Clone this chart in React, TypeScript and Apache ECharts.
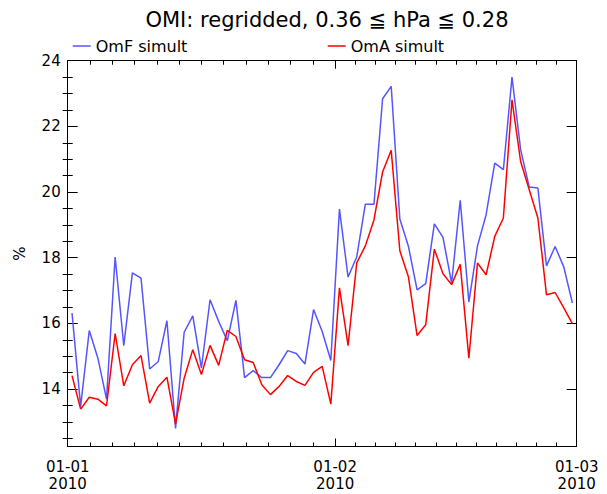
import React, { useEffect, useRef } from "react";
import * as echarts from "echarts";

// Daily values, 2010-01-01 .. 2010-02-28 (one point per day, at noon)
const omfSimult = [
  16.31, 13.47, 15.78, 14.94, 13.69, 18.02, 15.32, 17.54, 17.38, 14.61,
  14.84, 16.08, 12.8, 15.73, 16.23, 14.64, 16.72, 16.06, 15.47, 16.7,
  14.35, 14.56, 14.35, 14.35, 14.74, 15.17, 15.08, 14.76, 16.42, 15.75,
  14.87, 19.48, 17.41, 18.02, 19.63, 19.63, 22.84, 23.22, 19.18, 18.34,
  17.02, 17.21, 19.03, 18.62, 17.23, 19.75, 16.65, 18.36, 19.31, 20.88,
  20.68, 23.5, 21.29, 20.15, 20.12, 17.75, 18.34, 17.72, 16.62,
];
const omaSimult = [
  14.41, 13.39, 13.75, 13.69, 13.49, 15.69, 14.1, 14.74, 15.02, 13.57,
  14.08, 14.36, 12.94, 14.33, 15.2, 14.44, 15.33, 14.72, 15.79, 15.6,
  14.89, 14.81, 14.13, 13.83, 14.08, 14.41, 14.23, 14.11, 14.51, 14.69,
  13.54, 17.08, 15.32, 17.84, 18.36, 19.15, 20.61, 21.27, 18.21, 17.41,
  15.63, 15.96, 18.26, 17.51, 17.18, 17.8, 14.94, 17.84, 17.48, 18.65,
  19.21, 22.81, 20.93, 20.07, 19.21, 16.87, 16.94, 16.47, 15.99,
];

const seriesNames = ["OmF simult", "OmA simult"];
const seriesColors = ["#5555ff", "#ff0000"];
const monthStartDays = [0, 31, 59];
const monthLengths = [31, 28];
const monthLabels = ["01-01", "01-02", "01-03"];
const yearLabel = "2010";
const yMajorTicks = [14, 16, 18, 20, 22, 24];
const yMinorTicks = [12.5, 13, 13.5, 14.5, 15, 15.5, 16.5, 17, 17.5, 18.5, 19, 19.5, 20.5, 21, 21.5, 22.5, 23, 23.5];
const titleText = "OMI: regridded, 0.36 \u2266 hPa \u2266 0.28";

const FONT = "DejaVu Sans";

export default function App() {
  const ref = useRef<HTMLDivElement>(null);

  useEffect(() => {
    if (!ref.current) return;
    const chart = echarts.init(ref.current, undefined, { renderer: "svg" });

    const xMinorTicks: number[] = [];
    monthLengths.forEach((len, m) => {
      for (let k = 1; k < 12; k++) xMinorTicks.push(monthStartDays[m] + (k * len) / 12);
    });

    const toPoints = (arr: number[]) => arr.map((v, i) => [i + 0.5, v]);

    const baseX = {
      type: "value" as const,
      min: 0,
      max: 59,
      splitLine: { show: false },
    };
    const baseY = {
      type: "value" as const,
      min: 12.25,
      max: 24,
      splitLine: { show: false },
    };
    const line = { show: true, onZero: false, lineStyle: { color: "#000", width: 1 } };
    const noLine = { show: false };

    const legendItem = (i: number, left: number) => ({
      data: [{ name: seriesNames[i], icon: "rect", itemStyle: { color: seriesColors[i] } }],
      left,
      top: 33,
      itemWidth: 18,
      itemHeight: 1.5,
      itemGap: 0,
      textStyle: { fontFamily: FONT, fontSize: 16, color: "#000" },
    });

    chart.setOption({
      animation: false,
      backgroundColor: "#fff",
      title: {
        text: titleText,
        left: 322,
        top: 4,
        textAlign: "center",
        textStyle: { fontFamily: FONT, fontSize: 21, fontWeight: "normal", color: "#000" },
      },
      legend: [legendItem(0, 67.7), legendItem(1, 322.7)],
      grid: { left: 67.7, top: 60.7, width: 509, height: 385.8, show: false },
      xAxis: [
        {
          ...baseX,
          position: "bottom",
          axisLine: line,
          axisTick: { show: true, inside: true, length: 8, customValues: monthStartDays, lineStyle: { color: "#000" } },
          axisLabel: {
            show: true,
            customValues: monthStartDays,
            showMinLabel: true,
            showMaxLabel: true,
            margin: 12,
            lineHeight: 17,
            fontFamily: FONT,
            fontSize: 15,
            color: "#000",
            formatter: (v: number) => {
              const idx = monthStartDays.indexOf(Math.round(v));
              return idx >= 0 ? monthLabels[idx] + "\n" + yearLabel : "";
            },
          },
        },
        {
          ...baseX,
          position: "bottom",
          axisLine: noLine,
          axisTick: { show: true, inside: true, length: 4, customValues: xMinorTicks, lineStyle: { color: "#000" } },
          axisLabel: { show: false },
        },
        {
          ...baseX,
          position: "top",
          axisLine: line,
          axisTick: { show: true, inside: true, length: 8, customValues: monthStartDays, lineStyle: { color: "#000" } },
          axisLabel: { show: false },
        },
        {
          ...baseX,
          position: "top",
          axisLine: noLine,
          axisTick: { show: true, inside: true, length: 4, customValues: xMinorTicks, lineStyle: { color: "#000" } },
          axisLabel: { show: false },
        },
      ],
      yAxis: [
        {
          ...baseY,
          position: "left",
          axisLine: line,
          axisTick: { show: true, inside: true, length: 10, customValues: yMajorTicks, lineStyle: { color: "#000" } },
          axisLabel: {
            show: true,
            customValues: yMajorTicks,
            margin: 7,
            fontFamily: FONT,
            fontSize: 15,
            color: "#000",
          },
          name: "%",
          nameLocation: "middle",
          nameRotate: 90,
          nameGap: 40,
          nameTextStyle: { fontFamily: FONT, fontSize: 15, color: "#000" },
        },
        {
          ...baseY,
          position: "left",
          axisLine: noLine,
          axisTick: { show: true, inside: true, length: 5, customValues: yMinorTicks, lineStyle: { color: "#000" } },
          axisLabel: { show: false },
        },
        {
          ...baseY,
          position: "right",
          axisLine: line,
          axisTick: { show: true, inside: true, length: 10, customValues: yMajorTicks, lineStyle: { color: "#000" } },
          axisLabel: { show: false },
        },
        {
          ...baseY,
          position: "right",
          axisLine: noLine,
          axisTick: { show: true, inside: true, length: 5, customValues: yMinorTicks, lineStyle: { color: "#000" } },
          axisLabel: { show: false },
        },
      ],
      series: [0, 1].map((i) => ({
        name: seriesNames[i],
        type: "line",
        xAxisIndex: 0,
        yAxisIndex: 0,
        data: toPoints(i === 0 ? omfSimult : omaSimult),
        symbol: "none",
        color: seriesColors[i],
        lineStyle: { color: seriesColors[i], width: 1.5 },
      })),
    });

    return () => chart.dispose();
  }, []);

  return (
    <div
      ref={ref}
      style={{ position: "absolute", left: 0, top: 0, width: 607, height: 494, background: "#fff" }}
    />
  );
}
